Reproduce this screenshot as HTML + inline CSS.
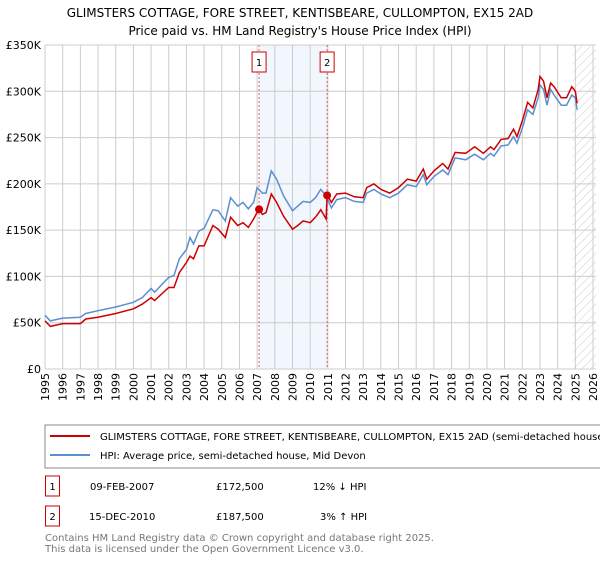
<!DOCTYPE html>
<html><head><meta charset="utf-8">
<style>
body{margin:0;background:#fff;font-family:"Liberation Sans","DejaVu Sans",sans-serif;}
svg text{font-family:"DejaVu Sans","Liberation Sans",sans-serif;}
</style></head>
<body>
<svg id="c" width="600" height="560" xmlns="http://www.w3.org/2000/svg">
<text x="300" y="17" text-anchor="middle" font-size="12" fill="#000">GLIMSTERS COTTAGE, FORE STREET, KENTISBEARE, CULLOMPTON, EX15 2AD</text>
<text x="300" y="35" text-anchor="middle" font-size="12" fill="#000">Price paid vs. HM Land Registry's House Price Index (HPI)</text>
<g id="plot"></g>
<rect x="45" y="425" width="560" height="43" fill="#fff" stroke="#888"/>
<line x1="50" y1="436" x2="90" y2="436" stroke="#cc0000" stroke-width="2"/>
<text x="100" y="440" font-size="10">GLIMSTERS COTTAGE, FORE STREET, KENTISBEARE, CULLOMPTON, EX15 2AD (semi-detached house)</text>
<line x1="50" y1="455" x2="90" y2="455" stroke="#5b8fd0" stroke-width="2"/>
<text x="100" y="459" font-size="10">HPI: Average price, semi-detached house, Mid Devon</text>
<rect x="45.5" y="476" width="14" height="20" fill="#fff" stroke="#cc0000"/>
<text x="52.5" y="490" font-size="10" text-anchor="middle">1</text>
<text x="90" y="490" font-size="10">09-FEB-2007</text>
<text x="216" y="490" font-size="10">£172,500</text>
<text x="313" y="490" font-size="10">12% ↓ HPI</text>
<rect x="45.5" y="506" width="14" height="20" fill="#fff" stroke="#cc0000"/>
<text x="52.5" y="520" font-size="10" text-anchor="middle">2</text>
<text x="89" y="520" font-size="10">15-DEC-2010</text>
<text x="216" y="520" font-size="10">£187,500</text>
<text x="320" y="520" font-size="10">3% ↑ HPI</text>
<text x="45" y="541" font-size="10" fill="#777">Contains HM Land Registry data © Crown copyright and database right 2025.</text>
<text x="45" y="552" font-size="10" fill="#777">This data is licensed under the Open Government Licence v3.0.</text>
</svg>
<script>
const yTicks=[0,50,100,150,200,250,300,350];
const yTickLabels=["£0","£50K","£100K","£150K","£200K","£250K","£300K","£350K"];
const xYears=[1995,1996,1997,1998,1999,2000,2001,2002,2003,2004,2005,2006,2007,2008,2009,2010,2011,2012,2013,2014,2015,2016,2017,2018,2019,2020,2021,2022,2023,2024,2025,2026];
const hpiT=[1995,1995.3,1996,1997,1997.3,1998,1999,2000,2000.5,2001,2001.2,2002,2002.3,2002.6,2003,2003.2,2003.4,2003.7,2004,2004.5,2004.8,2005.2,2005.5,2005.9,2006.2,2006.5,2006.8,2007,2007.3,2007.5,2007.8,2008.1,2008.5,2009,2009.3,2009.6,2010,2010.3,2010.6,2010.9,2011.2,2011.5,2012,2012.5,2013,2013.2,2013.6,2014,2014.5,2015,2015.5,2016,2016.4,2016.6,2017,2017.5,2017.8,2018.2,2018.8,2019.3,2019.8,2020.2,2020.4,2020.8,2021.2,2021.5,2021.7,2022,2022.3,2022.6,2022.9,2023,2023.2,2023.4,2023.6,2023.8,2024.2,2024.5,2024.8,2025,2025.1];
const hpiV=[58,52,55,56,60,63,67,72,77,87,83,99,101,119,129,142,135,149,152,172,171,160,185,176,180,173,180,196,190,190,214,205,187,171,176,181,180,185,194,187,174,183,185,181,180,190,194,189,185,190,199,197,210,199,208,215,210,228,226,232,226,233,230,241,242,251,244,260,280,275,293,307,302,285,302,296,285,285,296,293,280];
const priceT=[1995,1995.3,1996,1997,1997.3,1998,1999,2000,2000.5,2001,2001.2,2002,2002.3,2002.6,2003,2003.2,2003.4,2003.7,2004,2004.5,2004.8,2005.2,2005.5,2005.9,2006.2,2006.5,2006.8,2007.1,2007.3,2007.5,2007.8,2008.1,2008.5,2009,2009.3,2009.6,2010,2010.3,2010.6,2010.9,2010.96,2011.2,2011.5,2012,2012.5,2013,2013.2,2013.6,2014,2014.5,2015,2015.5,2016,2016.4,2016.6,2017,2017.5,2017.8,2018.2,2018.8,2019.3,2019.8,2020.2,2020.4,2020.8,2021.2,2021.5,2021.7,2022,2022.3,2022.6,2022.9,2023,2023.2,2023.4,2023.6,2023.8,2024.2,2024.5,2024.8,2025,2025.1];
const priceV=[52,46,49,49,54,56,60,65,70,77,74,88,88,104,115,122,119,133,133,155,151,142,164,155,158,153,162,173,167,169,189,180,165,151,155,160,158,164,172,162,188,180,189,190,186,185,196,200,194,190,196,205,203,216,205,214,222,216,234,233,240,233,240,237,248,249,259,251,268,288,282,302,316,311,293,309,305,293,293,305,300,287];
const saleT=[2007.11,2010.96];
const saleV=[172.5,187.5];
const saleLabels=["1","2"];
const NS="http://www.w3.org/2000/svg";
const L=45,R=593,T=45,B=369,X0=1995,X1=2026,YMAX=350;
const xs=t=>L+(t-X0)/(X1-X0)*(R-L);
const ys=v=>B-v/YMAX*(B-T);
const g=document.getElementById('plot');
function mk(tag,attrs){const e=document.createElementNS(NS,tag);for(const k in attrs)e.setAttribute(k,attrs[k]);g.appendChild(e);return e;}
let sh=mk('rect',{x:xs(saleT[0]),y:T,width:xs(saleT[1])-xs(saleT[0]),height:B-T,fill:'#f2f6fd'});


const defs=document.createElementNS(NS,'defs');defs.innerHTML='<pattern id="h" width="6" height="6" patternUnits="userSpaceOnUse" patternTransform="rotate(45)"><line x1="0" y1="0" x2="0" y2="6" stroke="#ccc" stroke-width="1"/></pattern>';g.appendChild(defs);
let ht=mk('rect',{x:xs(2024.85),y:T,width:R+3-xs(2024.85),height:B-T,fill:'url(#h)'});


xYears.forEach(yr=>{
 const l=mk('line',{x1:xs(yr),x2:xs(yr),y1:T,y2:B,stroke:'#ccc','stroke-width':1});
 
 
 const x=xs(yr);
 const t=mk('text',{x:x+4,y:B+4,'font-size':11,transform:`rotate(-90 ${x+4} ${B+4})`,'text-anchor':'end'});
 t.textContent=yr;
 
 
});
yTicks.forEach((v,i)=>{
 const l=mk('line',{x1:L,x2:R+3,y1:ys(v),y2:ys(v),stroke:'#ccc','stroke-width':1});
 
 
 const t=mk('text',{x:L-4,y:ys(v)+4,'font-size':11,'text-anchor':'end'});
 t.textContent=yTickLabels[i];
 
 
});
let ax=mk('line',{x1:L,x2:L,y1:T,y2:B,stroke:'#ccc'});


saleT.forEach((t,i)=>{
 const l=mk('line',{x1:xs(t),x2:xs(t),y1:T,y2:B,stroke:'#e06060','stroke-dasharray':'2,2','stroke-width':1});
 
 
 const r=mk('rect',{x:xs(t)-7,y:52,width:14,height:20,fill:'#fff',stroke:'#cc0000'});
 
 
 const tx=mk('text',{x:xs(t),y:66,'font-size':10,'text-anchor':'middle'});
 tx.textContent=saleLabels[i];
 
 
});
function path(T_,V_){return T_.map((t,i)=>(i?'L':'M')+xs(t).toFixed(1)+','+ys(V_[i]).toFixed(1)).join('');}
let hp=mk('path',{d:path(hpiT,hpiV),fill:'none',stroke:'#5b8fd0','stroke-width':1.5});


let pp=mk('path',{d:path(priceT,priceV),fill:'none',stroke:'#cc0000','stroke-width':1.5});


saleT.forEach((t,i)=>{
 const c=mk('circle',{cx:xs(t),cy:ys(saleV[i]),r:4,fill:'#cc0000'});
 
 
});
</script>
</body></html>
